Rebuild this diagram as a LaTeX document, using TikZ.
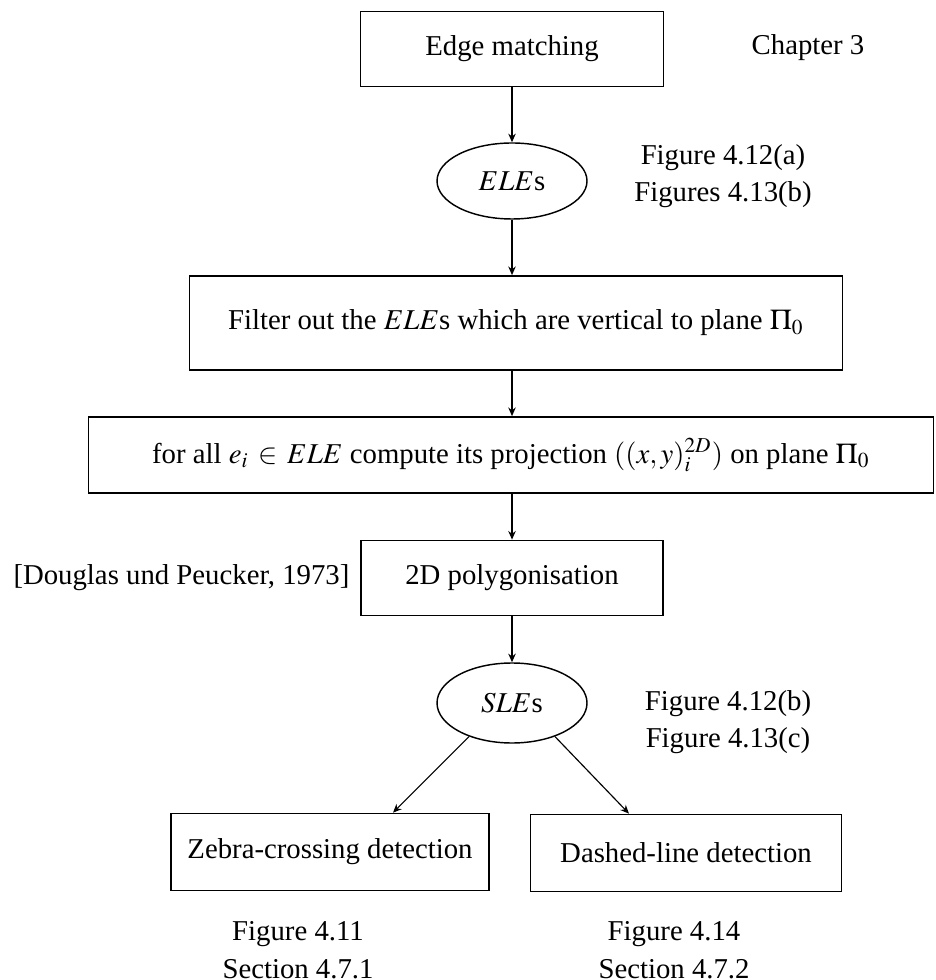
\documentclass[tikz,border=0pt]{standalone}
\usepackage{mathptmx}
\usepackage{fontspec}
\setmainfont{Liberation Serif}
\usetikzlibrary{arrows.meta, positioning, shapes.geometric, calc}
\newcommand{\pxu}{0.3477pt}
\tikzset{
  procbox/.style={draw, line width=0.6pt, minimum height=75*\pxu, inner sep=0pt,
                  font=\fontsize{10}{13}\selectfont},
  databox/.style={draw, ellipse, line width=0.5pt, minimum width=150*\pxu,
                  minimum height=76*\pxu, inner sep=0pt, font=\fontsize{10}{13}\selectfont},
  note/.style={align=center, inner sep=0pt, font=\fontsize{10}{13}\selectfont},
  arr/.style={-{Stealth[length=3pt,width=2.6pt]}, line width=0.6pt},
  darr/.style={-{Stealth[length=3pt,width=2.6pt]}, line width=0.4pt},
}

\begin{document}
\begin{tikzpicture}[x=\pxu, y=-\pxu]
    \useasboundingbox (0,0) rectangle (935,980);

    \node[procbox, minimum width=303*\pxu] (edge) at (512,49) {Edge matching};
    \node[note] (chap) at (808,48) {Chapter 3};

    \node[databox] (ele) at (512,181) {$ELE$s};
    \node[note] (fig1) at (723,176) {Figure 4.12(a)\\Figures 4.13(b)};

    \node[procbox, minimum width=653*\pxu, minimum height=94*\pxu] (filter) at (516,323)
      {Filter out the $ELE$s which are vertical to plane $\Pi_0$};
    \node[procbox, minimum width=845*\pxu, minimum height=76*\pxu] (proj) at (511,455)
      {for all $e_i \,\in\, ELE$ compute its projection $((x,y)_i^{2D})$ on plane $\Pi_0$};

    \node[procbox, minimum width=302*\pxu] (poly) at (512,578) {2D polygonisation};
    \node[note, anchor=east] (dp) at (350,578) {[Douglas und Peucker, 1973]};

    \node[databox, minimum height=80*\pxu] (sle) at (512,703) {$SLE$s};
    \node[note] (fig2) at (728,722) {Figure 4.12(b)\\Figure 4.13(c)};

    \node[procbox, minimum width=318*\pxu, minimum height=77*\pxu] (zebra) at (330,852)
      {Zebra-crossing detection};
    \node[procbox, minimum width=311*\pxu, minimum height=77*\pxu] (dashed) at (686,853)
      {Dashed-line detection};
    \node[note] (fig3) at (298,950) {Figure 4.11\\Section 4.7.1};
    \node[note] (fig4) at (674,950) {Figure 4.14\\Section 4.7.2};

    \draw[arr] (edge) -- (ele);
    \draw[arr] (ele.south) -- (ele.south |- filter.north);
    \draw[arr] (ele.south |- filter.south) -- (ele.south |- proj.north);
    \draw[arr] (ele.south |- proj.south) -- (poly.north);
    \draw[arr] (poly) -- (sle);
    \draw[darr] (sle.218) -- ($(zebra.north)+(63,0)$);
    \draw[darr] (sle.322) -- ($(dashed.north)+(-57,0)$);
\end{tikzpicture}
\end{document}
